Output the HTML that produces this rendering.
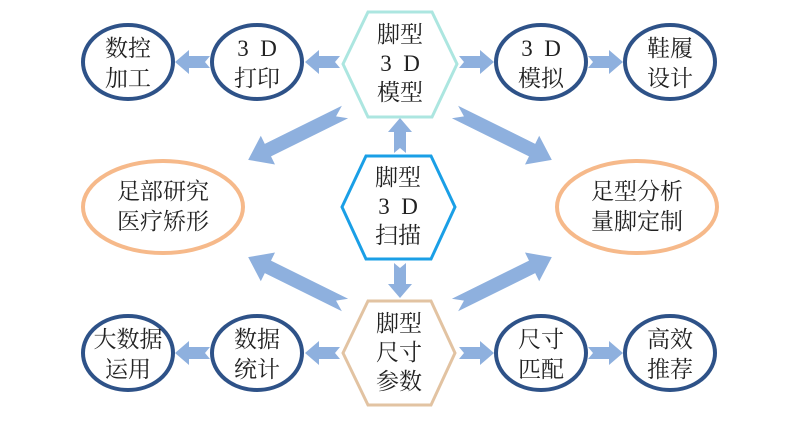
<!DOCTYPE html>
<html><head><meta charset="utf-8"><style>
html,body{margin:0;padding:0;background:#fff;}
svg{display:block}
text{font-family:"Liberation Serif","Noto Serif CJK SC",serif;font-size:23px;fill:#222;text-anchor:middle;}
</style></head><body>
<svg width="800" height="421" viewBox="0 0 800 421" xmlns="http://www.w3.org/2000/svg">
<defs>
<polygon id="sa" points="0,-6 21,-6 21,-12 35,0 21,12 21,6 0,6 5,0" fill="#8eb0de"/>
<polygon id="da" points="0,-7 86,-7 86,-16 108,0 86,16 86,7 0,7 10,0" fill="#8eb0de"/>
</defs>
<use href="#sa" transform="translate(340,62) rotate(180)"/>
<use href="#sa" transform="translate(210,62) rotate(180)"/>
<use href="#sa" transform="translate(459,62)"/>
<use href="#sa" transform="translate(588,62)"/>
<use href="#sa" transform="translate(340,353) rotate(180)"/>
<use href="#sa" transform="translate(210,353) rotate(180)"/>
<use href="#sa" transform="translate(459,353)"/>
<use href="#sa" transform="translate(588,353)"/>
<use href="#sa" transform="translate(400,153) rotate(-90)"/>
<use href="#sa" transform="translate(400,263) rotate(90)"/>
<use href="#da" transform="translate(345,112) rotate(153.7)"/>
<use href="#da" transform="translate(455,112) rotate(26.3)"/>
<use href="#da" transform="translate(345,305) rotate(-153.7)"/>
<use href="#da" transform="translate(455,305) rotate(-26.3)"/>
<g fill="#fff" stroke="#2e5288" stroke-width="4">
<ellipse cx="128" cy="62" rx="45" ry="37"/>
<ellipse cx="257" cy="62" rx="45" ry="37"/>
<ellipse cx="541" cy="62" rx="45" ry="37"/>
<ellipse cx="670" cy="62" rx="45" ry="37"/>
<ellipse cx="128" cy="353" rx="45" ry="37"/>
<ellipse cx="257" cy="353" rx="45" ry="37"/>
<ellipse cx="541" cy="353" rx="45" ry="37"/>
<ellipse cx="670" cy="353" rx="45" ry="37"/>
</g>
<g fill="#fff" stroke="#f6b98a" stroke-width="4">
<ellipse cx="163" cy="207" rx="80" ry="46"/>
<ellipse cx="637" cy="207" rx="80" ry="46"/>
</g>
<polygon points="343,64 368,12 432,12 457,64 432,117 368,117" fill="#fff" stroke="#ace6e0" stroke-width="3"/>
<polygon points="342,207 366,156 431,156 455,207 431,259 366,259" fill="#fff" stroke="#1a9fe6" stroke-width="3"/>
<polygon points="343,353 368,301 431,301 455,353 431,405 368,405" fill="#fff" stroke="#e2c3a2" stroke-width="3"/>
<text x="128" y="56">数控</text><text x="128" y="86">加工</text>
<text x="257" y="56">3&#160;&#160;D</text><text x="257" y="86">打印</text>
<text x="541" y="56">3&#160;&#160;D</text><text x="541" y="86">模拟</text>
<text x="670" y="56">鞋履</text><text x="670" y="86">设计</text>
<text x="400" y="42">脚型</text><text x="400" y="71">3&#160;&#160;D</text><text x="400" y="100">模型</text>
<text x="398" y="185">脚型</text><text x="398" y="214">3&#160;&#160;D</text><text x="398" y="243">扫描</text>
<text x="399" y="331">脚型</text><text x="399" y="360">尺寸</text><text x="399" y="389">参数</text>
<text x="163" y="199">足部研究</text><text x="163" y="229">医疗矫形</text>
<text x="637" y="199">足型分析</text><text x="637" y="229">量脚定制</text>
<text x="128" y="347">大数据</text><text x="128" y="377">运用</text>
<text x="257" y="347">数据</text><text x="257" y="377">统计</text>
<text x="541" y="347">尺寸</text><text x="541" y="377">匹配</text>
<text x="670" y="347">高效</text><text x="670" y="377">推荐</text>
</svg>
</body></html>
